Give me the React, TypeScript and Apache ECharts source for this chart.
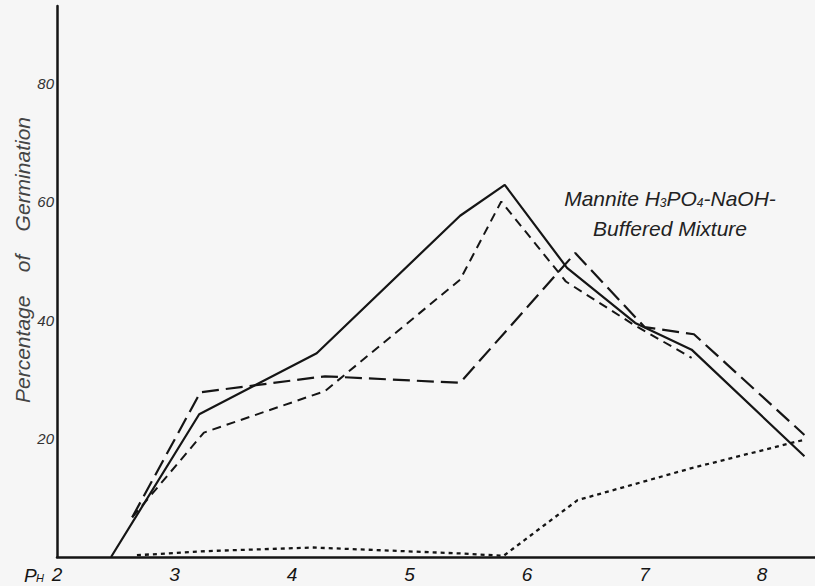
import React, { useEffect, useRef } from "react";
import * as echarts from "echarts";

// pH values and germination percentages
const phSolid = [2.46, 3.21, 4.21, 5.43, 5.81, 6.34, 6.92, 7.4, 8.36];
const valSolid = [0, 24.1, 34.4, 57.6, 62.8, 48.8, 39.5, 35, 17];

const phShortDash = [2.64, 3.25, 4.28, 5.43, 5.78, 6.33, 6.9, 7.4];
const valShortDash = [6.7, 21, 28, 46.8, 60, 46.5, 39.3, 33.6];

const phLongDash = [2.64, 3.22, 4.28, 5.43, 6.41, 7.0, 7.42, 8.36];
const valLongDash = [6.7, 27.8, 30.5, 29.4, 51.3, 38.8, 37.6, 20.6];

const phDotted = [2.68, 3.28, 4.18, 5.43, 5.8, 6.43, 7.4, 8.34];
const valDotted = [0.3, 1.0, 1.6, 0.6, 0.2, 9.6, 15, 19.7];

const xTicks = [2, 3, 4, 5, 6, 7, 8];
const yTicks = [20, 40, 60, 80];

const annotationLine1 = "Mannite H{sub|3}PO{sub|4}-NaOH-";
const annotationLine2 = "Buffered Mixture";
const yTitle = "Percentage    of    Germination";

const pairs = (xs: number[], ys: number[]) => xs.map((x, i) => [x, ys[i]]);

const FONT = "Liberation Sans";
const INK = "#151515";

export default function App() {
  const ref = useRef<HTMLDivElement>(null);
  useEffect(() => {
    if (!ref.current) return;
    const chart = echarts.init(ref.current, undefined, { renderer: "svg" });
    const lineBase = { type: "line", symbol: "none", silent: true, z: 3 } as any;
    chart.setOption({
      animation: false,
      backgroundColor: "#f6f6f6",
      grid: { left: 57, right: 0, top: 6, bottom: 29 },
      xAxis: {
        type: "value",
        min: 2,
        max: 8.45,
        interval: 1,
        axisLine: { show: true, lineStyle: { color: INK, width: 2.5 } },
        axisTick: { show: false },
        splitLine: { show: false },
        axisLabel: {
          fontFamily: FONT,
          fontStyle: "italic",
          fontSize: 19,
          color: INK,
          margin: 8,
          showMaxLabel: false,
          formatter: (v: number) => (xTicks.includes(v) ? String(v) : ""),
        },
      },
      yAxis: {
        type: "value",
        min: 0,
        max: 93,
        interval: 20,
        axisLine: { show: true, lineStyle: { color: INK, width: 2.5 } },
        axisTick: { show: false },
        splitLine: { show: false },
        axisLabel: {
          fontFamily: FONT,
          fontStyle: "italic",
          fontSize: 15,
          color: "#333",
          margin: 3,
          showMaxLabel: false,
          formatter: (v: number) => (yTicks.includes(v) ? String(v) : ""),
        },
      },
      series: [
        {
          ...lineBase,
          name: "solid",
          data: pairs(phSolid, valSolid),
          lineStyle: { color: INK, width: 2.2, type: "solid" },
        },
        {
          ...lineBase,
          name: "short dashed",
          data: pairs(phShortDash, valShortDash),
          lineStyle: { color: INK, width: 2, type: [9, 6] },
        },
        {
          ...lineBase,
          name: "long dashed",
          data: pairs(phLongDash, valLongDash),
          lineStyle: { color: INK, width: 2.2, type: [17, 7] },
        },
        {
          ...lineBase,
          name: "dotted",
          data: pairs(phDotted, valDotted),
          lineStyle: { color: INK, width: 2.3, type: [4, 4] },
        },
      ],
      graphic: [
        {
          type: "text",
          x: 22,
          y: 260,
          rotation: Math.PI / 2,
          style: {
            text: yTitle,
            fontFamily: FONT,
            fontStyle: "italic",
            fontSize: 21,
            fill: "#444",
            align: "center",
            verticalAlign: "middle",
          },
        },
        {
          type: "text",
          x: 24,
          y: 575,
          style: {
            text: "P",
            fontFamily: FONT,
            fontStyle: "italic",
            fontSize: 19,
            fill: INK,
            align: "left",
            verticalAlign: "middle",
          },
        },
        {
          type: "text",
          x: 36,
          y: 578,
          style: {
            text: "H",
            fontFamily: FONT,
            fontStyle: "italic",
            fontSize: 11,
            fill: INK,
            align: "left",
            verticalAlign: "middle",
          },
        },
        {
          type: "text",
          x: 670,
          y: 198,
          style: {
            text: annotationLine1,
            fontFamily: FONT,
            fontStyle: "italic",
            fontSize: 21,
            fill: "#222",
            align: "center",
            verticalAlign: "middle",
            rich: {
              sub: {
                fontFamily: FONT,
                fontStyle: "italic",
                fontSize: 12,
                fill: "#222",
                padding: [10, 0, 0, 0],
              },
            },
          },
        },
        {
          type: "text",
          x: 670,
          y: 228,
          style: {
            text: annotationLine2,
            fontFamily: FONT,
            fontStyle: "italic",
            fontSize: 21,
            fill: "#222",
            align: "center",
            verticalAlign: "middle",
          },
        },
      ],
    });
    return () => chart.dispose();
  }, []);
  return (
    <div
      ref={ref}
      style={{ position: "fixed", left: 0, top: 0, width: 815, height: 586 }}
    />
  );
}
